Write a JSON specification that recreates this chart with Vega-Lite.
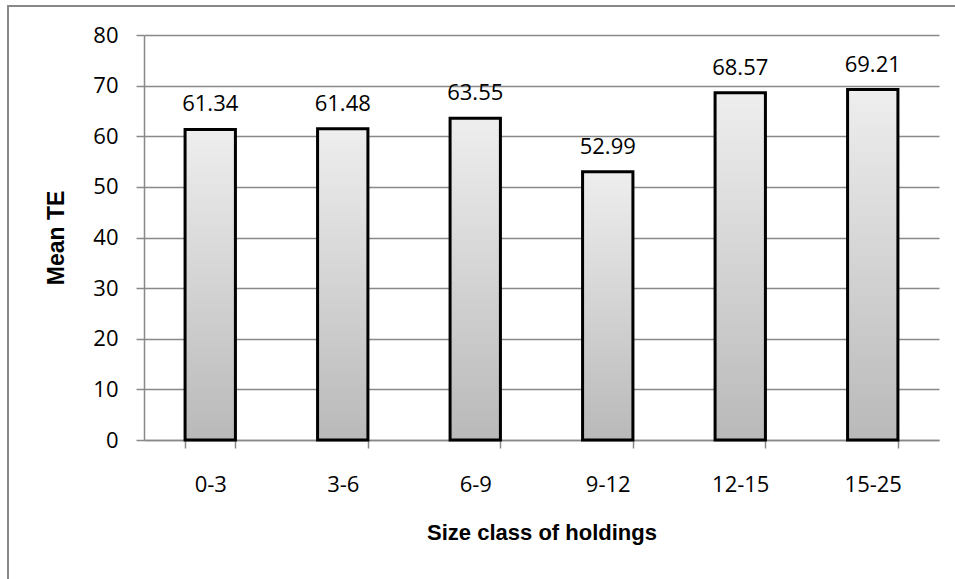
{
  "$schema": "https://vega.github.io/schema/vega-lite/v6.json",
  "width": 955,
  "height": 580,
  "autosize": {"type": "none"},
  "padding": {"left": 8, "top": 6, "right": 0, "bottom": 0},
  "background": "white",
  "config": {
    "view": {"stroke": "#898989", "strokeWidth": 2},
    "font": "Open Sans"
  },
  "data": {
    "values": [
      {"size_class": "0-3", "mean_te": 61.34},
      {"size_class": "3-6", "mean_te": 61.48},
      {"size_class": "6-9", "mean_te": 63.55},
      {"size_class": "9-12", "mean_te": 52.99},
      {"size_class": "12-15", "mean_te": 68.57},
      {"size_class": "15-25", "mean_te": 69.21}
    ]
  },
  "encoding": {
    "x": {
      "field": "size_class",
      "type": "nominal",
      "sort": null,
      "scale": {"range": [136, 931], "paddingInner": 0.62, "paddingOuter": 0.31},
      "axis": {
        "orient": "bottom",
        "offset": -146,
        "title": "Size class of holdings",
        "labelAngle": 0,
        "tickBand": "extent",
        "tickSize": 8,
        "tickColor": "#898989",
        "tickWidth": 1.5,
        "domainColor": "#898989",
        "domainWidth": 1.5,
        "grid": false,
        "labelPadding": 26,
        "labelFont": "Open Sans",
        "labelFontSize": 22,
        "labelColor": "black",
        "titleFont": "Liberation Sans",
        "titleFontWeight": "bold",
        "titleFontSize": 22,
        "titleColor": "black",
        "titleY": 99,
        "titleBaseline": "alphabetic"
      }
    },
    "y": {
      "field": "mean_te",
      "type": "quantitative",
      "scale": {"domain": [0, 80], "range": [434, 29], "nice": false, "zero": true},
      "axis": {
        "orient": "left",
        "offset": -136,
        "title": "Mean TE",
        "values": [0, 10, 20, 30, 40, 50, 60, 70, 80],
        "grid": true,
        "gridColor": "#898989",
        "gridWidth": 1.5,
        "tickSize": 8,
        "tickColor": "#898989",
        "tickWidth": 1.5,
        "domainColor": "#898989",
        "domainWidth": 1.5,
        "labelPadding": 18,
        "labelFont": "Open Sans",
        "labelFontSize": 22,
        "labelColor": "black",
        "titleFont": "Liberation Sans",
        "titleFontWeight": "bold",
        "titleFontSize": 23,
        "titleColor": "black",
        "titleX": -76
      }
    }
  },
  "layer": [
    {
      "mark": {
        "type": "bar",
        "stroke": "black",
        "strokeWidth": 3,
        "fill": {
          "gradient": "linear",
          "x1": 0, "y1": 0, "x2": 0, "y2": 1,
          "stops": [
            {"offset": 0, "color": "#eeeeee"},
            {"offset": 1, "color": "#b9b9b9"}
          ]
        }
      }
    },
    {
      "mark": {
        "type": "text",
        "dy": -18,
        "baseline": "alphabetic",
        "font": "Open Sans",
        "fontSize": 22,
        "color": "black"
      },
      "encoding": {
        "text": {"field": "mean_te", "type": "quantitative", "format": ".2f"}
      }
    }
  ]
}
